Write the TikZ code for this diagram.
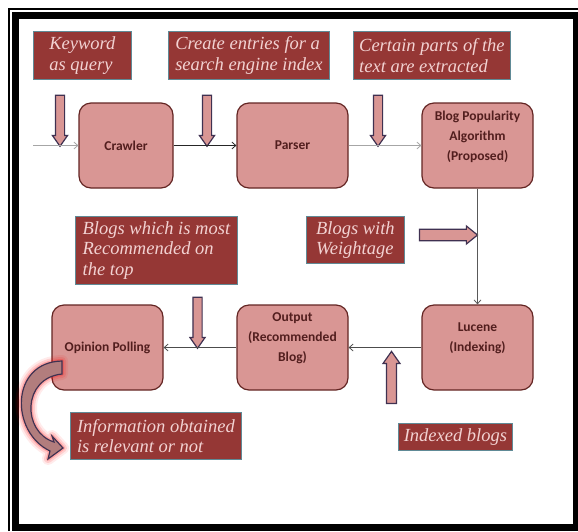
\documentclass[tikz,border=0pt]{standalone}
\usepackage{fontspec}
\setmainfont{Carlito}
\newfontfamily\notefont{Liberation Serif}
\usetikzlibrary{arrows.meta,shapes.arrows}
\definecolor{boxfill}{RGB}{217,150,148}
\definecolor{boxline}{RGB}{99,37,35}
\definecolor{boxtext}{RGB}{82,30,30}
\definecolor{notefill}{RGB}{149,55,53}
\definecolor{noteline}{RGB}{96,138,150}
\definecolor{notetext}{RGB}{242,210,210}
\definecolor{arrline}{RGB}{63,49,81}
\definecolor{curvefill}{RGB}{178,125,125}
\begin{document}
\begin{tikzpicture}[x=1pt,y=-1pt,
		>={Straight Barb[length=4pt,width=7pt]},
		stepbox/.style={rectangle,rounded corners=12pt,draw=boxline,line width=1.2pt,fill=boxfill,
			text=boxtext,font=\bfseries\fontsize{13.5}{20}\selectfont,align=center,
			minimum width=111pt,minimum height=85pt},
		boxtext/.style={text=boxtext,font=\bfseries\fontsize{13.5}{20}\selectfont,align=center,yshift=9pt},
		note/.style={rectangle,draw=noteline,line width=0.8pt,fill=notefill,text=notetext,
			font=\notefont\itshape\fontsize{18.5}{20.5}\selectfont,align=left,anchor=north west,inner sep=0pt},
		conn/.style={->,line width=0.8pt},
		blockarrow/.style={single arrow,draw=arrline,line width=1.2pt,fill=boxfill,inner xsep=0pt,inner ysep=4pt,
			minimum width=14pt,single arrow head extend=3pt,single arrow tip angle=70,minimum height=51pt}]

	\useasboundingbox (0,0) rectangle (578,531);
	\draw[line width=2pt] (9,531) -- (9,9) -- (578,9);
	\draw[line width=7pt] (15.5,15.5) rectangle (576.5,527.5);

	\node[stepbox,minimum width=94pt] (crawler) at (126,145.5) {Crawler};
	\node[stepbox] (parser) at (292.5,145.5) {Parser};
	\node[stepbox,label={[boxtext]center:Blog Popularity\\Algorithm\\(Proposed)}] (bpa) at (477.5,145.5) {};
	\node[stepbox] (opinion) at (107.5,347.5) {Opinion Polling};
	\node[stepbox,label={[boxtext]center:Output\\(Recommended\\Blog)}] (output) at (292.5,347.5) {};
	\node[stepbox,label={[boxtext]center:Lucene\\(Indexing)}] (lucene) at (477.5,347.5) {};

	\node[note,minimum width=98pt,minimum height=48pt] (keyword) at (33,31) {Keyword\\as query};
	\node[note,minimum width=161pt,minimum height=48pt] (entries) at (168,31) {Create entries for a\\search engine index};
	\node[note,minimum width=157pt,minimum height=48pt] (parts) at (353,31) {Certain parts of the\\text are extracted};
	\node[note,minimum width=162pt,minimum height=68pt] (mostrec) at (75,216) {Blogs which is most\\Recommended on\\the top};
	\node[note,minimum width=98pt,minimum height=47pt] (weight) at (306,216) {Blogs with\\Weightage};
	\node[note,minimum width=171pt,minimum height=47pt] (relevant) at (70,412) {Information obtained\\is relevant or not};
	\node[note,minimum width=114pt,minimum height=27pt] (indexed) at (398,423) {Indexed blogs};

	\node[blockarrow,rotate=-90] (kwarrow) at (60,117.5) {};
	\node[blockarrow,rotate=-90] (entarrow) at (207,117.5) {};
	\node[blockarrow,rotate=-90] (partarrow) at (378,117.5) {};
	\node[blockarrow,rotate=-90] (recarrow) at (197.5,319.5) {};
	\node[blockarrow,minimum height=58pt,minimum width=18pt,inner ysep=4.5pt,single arrow tip angle=78] (wtarrow) at (445,235) {};
	\node[blockarrow,rotate=90,minimum height=52pt,minimum width=17pt,inner ysep=3.8pt] (idxarrow) at (391.5,381) {};

	\coordinate (in) at (33,145.5);
	\draw[conn,gray!70] (in) -- (crawler);
	\draw[conn,black!85] (crawler) -- (parser);
	\draw[conn,gray!70] (parser) -- (bpa);
	\draw[conn,black!65] (bpa) -- (lucene);
	\draw[conn,black!70] (lucene) -- (output);
	\draw[conn,black!70] (output) -- (opinion);

	\draw[draw=arrline,line width=1.2pt,fill=curvefill,
		preaction={draw=red,line width=12pt,opacity=0.08,line join=round},
		preaction={draw=red,line width=8pt,opacity=0.12,line join=round},
		preaction={draw=red,line width=4pt,opacity=0.2,line join=round}]
		(62,361) .. controls (10,362) and (10,432) .. (50,451) -- (48,459) -- (63,448)
		-- (52,436) -- (54,442) .. controls (22,432) and (22,378) .. (62,374) -- cycle;
\end{tikzpicture}
\end{document}
